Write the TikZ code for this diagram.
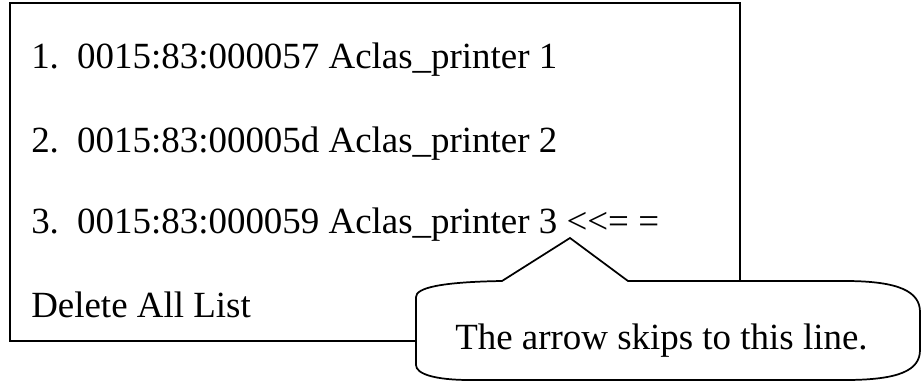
\documentclass[tikz,border=0pt]{standalone}
\usepackage{fontspec}
\setmainfont{Liberation Serif}
\begin{document}
\begin{tikzpicture}[x=0.75pt,y=-0.75pt,
    entry/.style={anchor=base west,inner sep=0pt,font=\fontsize{27.7}{30}\selectfont},
    frame/.style={line width=1.3pt}]
  \useasboundingbox (0,0) rectangle (922,383);
  % list box
  \draw[frame] (10,3) rectangle (740,341);
  \node[entry] (item1) at (31,68) {\makebox[34.5pt][l]{1.}0015:83:000057 Aclas\_printer 1};
  \node[entry] (item2) at (31,152) {\makebox[34.5pt][l]{2.}0015:83:00005d Aclas\_printer 2};
  \node[entry] (item3) at (31,233) {\makebox[34.5pt][l]{3.}0015:83:000059 Aclas\_printer 3 <{}<= =};
  \node[entry] (delall) at (31,317) {Delete All List};
  % callout
  \draw[frame,fill=white] (502,281) -- (570,238) -- (628,281) -- (845,281)
    .. controls (900,281) and (920,292) .. (920,312) -- (920,350)
    .. controls (920,370) and (900,380) .. (845,380) -- (470,380)
    .. controls (435,380) and (416,374) .. (416,365) -- (416,297)
    .. controls (416,288) and (440,282) .. (502,281) -- cycle;
  \node[entry] (note) at (455,349) {The arrow skips to this line.};
\end{tikzpicture}
\end{document}
